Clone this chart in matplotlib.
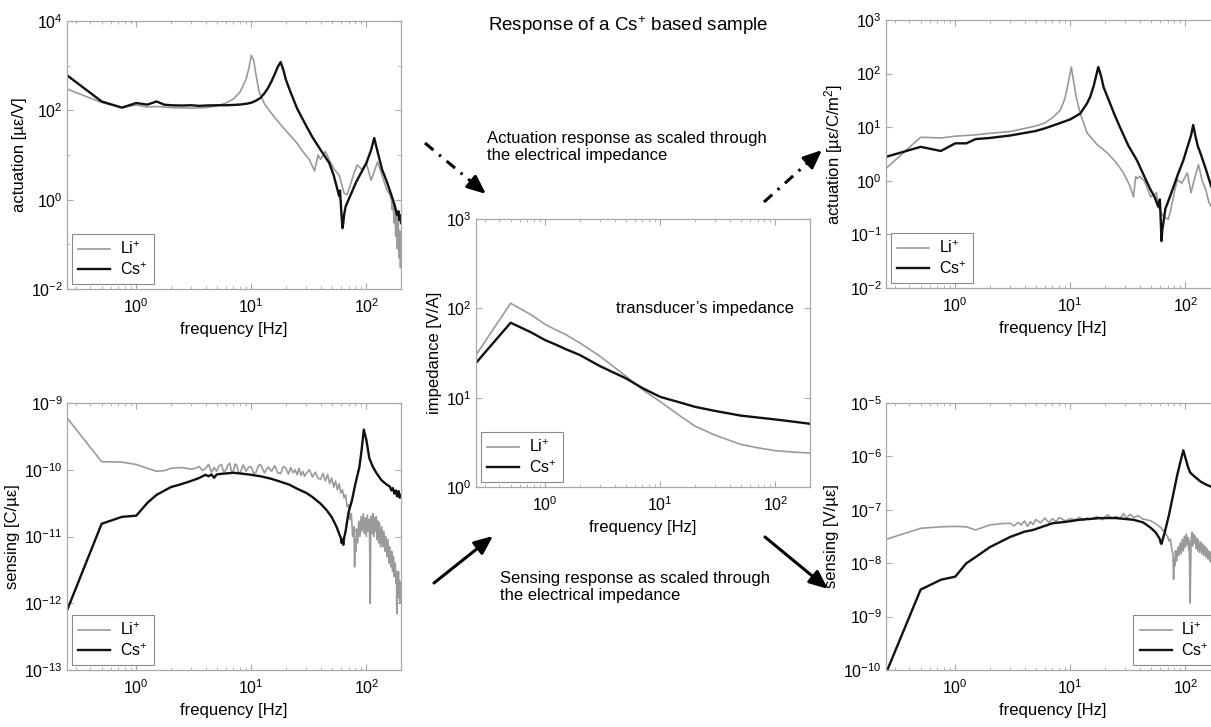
import numpy as np
import matplotlib
matplotlib.use('Agg')
import matplotlib.pyplot as plt
from matplotlib.ticker import FixedLocator, LogLocator, NullFormatter, LogFormatterSciNotation
from matplotlib.lines import Line2D

plt.rcParams['font.family'] = ['Liberation Sans', 'DejaVu Sans']
plt.rcParams['mathtext.fontset'] = 'custom'
plt.rcParams['mathtext.rm'] = 'Liberation Sans'
plt.rcParams['mathtext.it'] = 'Liberation Sans:italic'
plt.rcParams['mathtext.bf'] = 'Liberation Sans:bold'

# ---------------- data ----------------
# actuation [µε/V] (top-left)
act_f_cs = [0.25,0.5,0.75,1,1.25,1.5,1.75,2,2.5,3,3.5,4,5,6,7,8,9,10,11,12,13,14,15,16,17,18,19,20,22,25,
            30,34,40,47.6,52,56,58,59,60,61,62,63,64,66,70,75,81,90,100,110,117,125,137,150,168,175,180,185,190,194,197,200]
act_cs = [610,158,115,146,134,158,134,130,128,130,126,128,130,130,132,135,140,148,165,190,240,320,450,650,950,1200,800,480,250,110,
          45,25,13,6.6,3.5,1.7,1.2,1.6,0.8,0.4,0.23,0.3,0.45,0.7,1.0,1.5,2.4,4.0,6.6,13,24,12,4.7,2.6,1.1,0.8,0.6,0.45,0.55,0.35,0.45,0.3]
act_f_li = [0.25,0.5,0.75,1,1.25,1.5,2,3,4,5,6,7,8,9,9.5,10,10.5,11,11.7,13,15,17.5,20,24.7,28,32,35.5,38,40,44,
            47.6,52,58,61,64,68,72,77,83,92,100,110,125,137,150,160,165,168,171,174,177,180,183,186,189,192,195,198,200]
act_li = [300,150,115,132,118,122,115,112,115,125,145,180,260,500,850,1700,1300,600,260,140,85,52,35,19,12,7.8,4.4,10,8,12,
          7.8,5,3.5,2.2,1.4,1.3,2.0,3.5,6,4.7,6.6,2.7,7,3.5,1.7,1.3,1.0,0.6,0.9,0.3,0.7,0.15,0.5,0.08,0.4,0.05,0.2,0.03,0.1]

# sensing [C/µε] (bottom-left); Li in units of 1e-10, Cs in units of 1e-11
sen_f_li = [0.25,0.5,0.75,1,1.25,1.5,1.75,2,2.5,
            3,3.25,3.5,3.75,4,4.25,4.5,4.75,5,5.25,
            5.5,5.75,6,6.25,6.5,6.75,7,7.25,7.5,7.75,
            8,8.5,9,9.5,10,10.5,11,11.5,12,13,
            14,15,16,17,18,19,20,21,22,23,
            24,25,26,27,28,29,30,32,34,36,
            38,40,42,44,46,48,50,52,54,56,58,60,
            62,64,66,68,70,72,74,76,78,79,
            80,81,82,84,86,88,90,92,94,96,
            98,100,102,104,106,107,108,109,110,112,
            114,116,118,120,122,124,126,128,130,133,
            136,139,142,145,148,151,154,157,160,163,
            166,169,172,175,178,181,183,184,186,188,
            190,192,194,196,198,200]
sen_li_e10 = [6.0,1.32,1.3,1.2,1.05,0.95,0.97,1.05,1.08,
              1.02,1.05,1.12,0.98,1.04,1.2,0.92,1.08,0.95,1.15,
              1.2,0.93,0.98,1.18,1.25,0.92,0.97,1.22,1.15,0.9,
              0.9,1.18,0.95,1.1,1.1,0.88,0.92,1.15,1.2,0.9,
              1.1,0.95,1.15,0.9,0.88,1.12,1.05,0.86,1.08,0.9,
              1.0,0.84,1.05,0.82,0.95,0.8,0.88,1.0,0.78,0.92,
              0.75,0.72,0.88,0.68,0.85,0.62,0.75,0.55,0.68,0.5,0.62,0.45,
              0.5,0.38,0.42,0.28,0.3,0.18,0.22,0.1,0.14,0.035,
              0.09,0.06,0.13,0.08,0.17,0.1,0.2,0.12,0.22,0.11,
              0.19,0.1,0.21,0.12,0.18,0.06,0.01,0.09,0.2,0.11,
              0.22,0.1,0.19,0.12,0.2,0.09,0.17,0.08,0.16,0.07,
              0.14,0.07,0.12,0.06,0.1,0.05,0.09,0.04,0.07,0.035,
              0.06,0.03,0.05,0.025,0.04,0.02,0.03,0.007,0.025,0.015,
              0.03,0.012,0.022,0.01,0.02,0.012]
sen_f_cs = [0.25,0.5,0.75,1,1.25,1.5,2,2.4,3,3.5,4,4.25,4.5,4.75,5,5.5,6,7,8,10,
            12.4,15,18,21.3,25,30,34,40,45,50,55,58,60,61,62,63,64,66,70,75,
            80,87,91,95,100,106,114,122,135,150,160,165,170,175,180,185,190,195,200]
sen_cs_e11 = [0.078,1.55,1.97,2.05,3.2,4.2,5.5,6.0,6.8,7.5,8.4,8.0,8.5,7.6,8.5,8.7,8.8,9.0,8.8,8.4,
              7.9,7.3,6.6,6.0,5.2,4.5,3.9,3.1,2.5,1.95,1.4,1.1,0.95,0.8,0.9,0.75,0.95,1.2,2.3,3.5,
              6.0,11,20,40,28,15,11,9,7,6,5.6,4.9,5.3,4.4,4.9,4.0,4.8,3.8,4.2]

# impedance [V/A] (centre)
imp_f = [0.25,0.5,0.75,1,1.25,1.5,2,3,5,7,10,15,20,30,50,70,100,150,200]
imp_li = [30,114,85,66,57,51,41,29,17.5,12.3,9.0,6.2,4.8,3.8,3.0,2.75,2.55,2.45,2.4]
imp_cs = [24.5,69,54,44,39,35,30,22.5,16.5,12.8,10.2,8.8,7.9,7.1,6.3,6.0,5.7,5.35,5.1]

# actuation [µε/C/m²] (top-right)
ac2_f_li = [0.25,0.5,0.75,1,1.5,2,3,4,5,6,7,8.2,9,9.5,10.2,10.7,11.3,12.2,14,17,
            21,25,29,33,35.4,37,38,40,44,50,56,58,64,71,75,80,85,93,104,112,
            120,130,140,150,160,168,175,180,185,190,195,200]
ac2_li = [1.7,6.5,6.3,6.8,7.2,7.7,8.3,9.5,10.5,12,15,21,35,60,133,70,35,18,7.8,4.8,
          3.3,2.2,1.4,0.8,0.5,1.2,1.1,1.2,1.0,0.5,0.6,0.33,0.22,0.19,0.3,0.6,1.05,0.9,1.4,0.6,
          1.1,2.0,1.0,0.7,0.4,0.33,0.5,0.2,0.35,0.1,0.25,0.08]
ac2_f_cs = [0.25,0.5,0.75,1,1.25,1.5,2,3,4,5,6,8.2,10,12.2,14,14.9,16,17.5,18.5,19.5,
            21,24,27,32,38,44,50,54,58,60,61,62,63,64,65,67,72,79,87,96,
            105,112,117,122,128,135,150,168,180,190,200]
ac2_cs = [2.8,4.3,3.6,5.0,5.0,6.0,6.3,7.0,7.8,8.5,9.5,12,14,18,28,37,60,133,90,55,
          37,18,10,4.5,2.4,1.2,0.67,0.5,0.33,0.45,0.2,0.075,0.12,0.15,0.19,0.3,0.45,0.78,1.4,2.4,
          4.5,7,11,7,4.5,3.3,1.7,0.78,0.6,0.45,0.4]

# sensing [V/µε] (bottom-right), values in units of 1e-8
se2_f_li = [0.25,0.5,0.75,1,1.25,1.5,2,2.5,3,3.25,3.5,3.75,4,4.25,4.5,4.75,5,5.5,6,6.5,
            7,7.5,8,9,10,11,12,13,14,15,17,19,21,23,25,27,29,31,33,36,
            39,42,46,50,55,60,
            62,64,66,68,70,72,74,76,78,79,
            80,81,82,84,86,88,90,92,94,96,
            98,100,102,104,106,107,108,109,110,112,
            114,116,118,120,122,124,126,128,130,133,
            136,139,142,145,148,151,154,157,160,163,
            166,169,172,175,178,181,183,184,186,188,
            190,192,194,196,198,200]
se2_li_e8 = [2.8,4.5,4.8,4.9,4.8,4.2,5.2,5.5,5.6,5.0,5.8,5.2,6.2,4.9,6.0,5.3,6.6,5.7,7.0,5.8,
             6.8,6.0,7.2,6.2,6.8,6.5,7.2,6.4,7.0,6.6,7.5,6.5,8.0,7.0,7.5,6.8,8.5,7.0,8.2,7.2,
             7.8,6.8,6.5,6.2,5.5,4.8,
             4.5,4.0,4.3,3.4,3.2,2.6,2.8,1.9,1.5,0.5,
             1.2,0.9,1.7,1.1,2.0,1.4,2.4,1.5,2.8,1.7,
             3.2,2.0,3.5,2.2,3.0,1.8,2.6,0.9,0.18,2.5,
             3.8,2.1,3.5,2.4,3.2,1.9,2.9,1.7,2.7,1.6,
             2.5,1.5,2.3,1.4,2.1,1.3,1.9,1.2,1.7,1.1,
             1.6,1.0,1.4,0.9,1.3,0.8,1.2,0.7,1.1,0.7,
             1.0,0.65,0.9,0.6,0.85,0.6]
se2_f_cs = [0.25,0.5,0.75,1,1.25,1.5,2,2.46,3,4,4.76,6,7,9.4,12,18.3,25,35.5,43,50,
            55,58,60,61,62,63,65,67,72,79,85,90,96,100,105,110,120,135,150,168,185,200]
se2_cs_e8 = [0.0087,0.32,0.49,0.56,1.0,1.3,2.0,2.5,3.1,3.9,4.2,5.0,5.6,6.0,6.5,7.0,7.0,6.5,5.8,4.6,
             3.8,3.2,2.8,2.4,2.3,2.6,3.3,4.2,8,21,45,75,130,95,65,50,42,34,30,27,26,25]

labels = ['Li$^{+}$', 'Cs$^{+}$']
GRAY, BLACK = '#9a9a9a', '#111111'
FRAME = '#a8a8a8'

W, H = 1211, 727
fig = plt.figure(figsize=(W/100, H/100), dpi=100)

def rect(l, t, r, b):
    return [l/W, 1 - b/H, (r - l)/W, (b - t)/H]

def setup(ax, ylim, yticks, ylabel, yminor=()):
    ax.set_xscale('log'); ax.set_yscale('log')
    ax.set_xlim(0.25, 200)
    ax.set_ylim(*ylim)
    ax.xaxis.set_major_locator(FixedLocator([1, 10, 100]))
    ax.xaxis.set_minor_locator(LogLocator(base=10, subs=np.arange(2, 10), numticks=30))
    ax.xaxis.set_minor_formatter(NullFormatter())
    ax.yaxis.set_major_locator(FixedLocator(yticks))
    ax.yaxis.set_minor_locator(FixedLocator(list(yminor)))
    ax.yaxis.set_minor_formatter(NullFormatter())
    ax.xaxis.set_major_formatter(LogFormatterSciNotation())
    ax.yaxis.set_major_formatter(LogFormatterSciNotation())
    ax.tick_params(which='both', direction='in', top=True, right=True, color=FRAME,
                   labelcolor='black', labelsize=11.5)
    ax.tick_params(which='major', length=4, width=0.8)
    ax.tick_params(which='minor', length=2.5, width=0.6)
    ax.tick_params(axis='x', pad=6)
    ax.tick_params(axis='y', pad=3)
    for s in ax.spines.values():
        s.set_color(FRAME); s.set_linewidth(0.9)
    ax.set_xlabel('frequency [Hz]', fontsize=12, labelpad=4)
    ax.set_ylabel(ylabel, fontsize=12, labelpad=3)

def plot_pair(ax, fl, vl, fc, vc, loc):
    ax.plot(fl, vl, color=GRAY, lw=1.2, label=labels[0])
    ax.plot(fc, vc, color=BLACK, lw=1.7, label=labels[1])
    leg = ax.legend(loc=loc, fontsize=11.5, frameon=True, fancybox=False, framealpha=1,
                    edgecolor='#8a8a8a', handlelength=2.0, handletextpad=0.6,
                    borderpad=0.4, labelspacing=0.25, borderaxespad=0.3)
    leg.get_frame().set_linewidth(0.8)

# top-left
ax1 = fig.add_axes(rect(67, 21, 401, 289))
plot_pair(ax1, act_f_li, act_li, act_f_cs, act_cs, 'lower left')
setup(ax1, (1e-2, 1e4), [1e-2, 1, 1e2, 1e4], 'actuation [µε/V]', yminor=[1e-1, 1e1, 1e3])

# bottom-left
ax2 = fig.add_axes(rect(67, 403, 401, 670))
plot_pair(ax2, sen_f_li, np.array(sen_li_e10) * 1e-10, sen_f_cs, np.array(sen_cs_e11) * 1e-11, 'lower left')
setup(ax2, (1e-13, 1e-9), [1e-13, 1e-12, 1e-11, 1e-10, 1e-9], 'sensing [C/µε]')

# centre
ax3 = fig.add_axes(rect(476, 219, 810, 487))
plot_pair(ax3, imp_f, imp_li, imp_f, imp_cs, 'lower left')
setup(ax3, (1, 1e3), [1, 10, 100, 1000], 'impedance [V/A]')
ax3.text(0.685, 0.665, 'transducer’s impedance', transform=ax3.transAxes, ha='center', va='center', fontsize=12)

# top-right
ax4 = fig.add_axes(rect(886, 20, 1220, 288))
plot_pair(ax4, ac2_f_li, ac2_li, ac2_f_cs, ac2_cs, 'lower left')
setup(ax4, (1e-2, 1e3), [1e-2, 1e-1, 1, 10, 100, 1000], 'actuation [µε/C/m$^{2}$]')

# bottom-right
ax5 = fig.add_axes(rect(886, 403, 1220, 670))
plot_pair(ax5, se2_f_li, np.array(se2_li_e8) * 1e-8, se2_f_cs, np.array(se2_cs_e8) * 1e-8, 'lower right')
setup(ax5, (1e-10, 1e-5), [1e-10, 1e-9, 1e-8, 1e-7, 1e-6, 1e-5], 'sensing [V/µε]')

# ---------------- annotations ----------------
def fp(x, y):
    return (x / W, 1 - y / H)

fig.text(*fp(628, 26), 'Response of a Cs$^{+}$ based sample', ha='center', va='center', fontsize=13.5)
fig.text(*fp(487, 147), 'Actuation response as scaled through\nthe electrical impedance',
         ha='left', va='center', fontsize=12, linespacing=1.2)
fig.text(*fp(500, 587), 'Sensing response as scaled through\nthe electrical impedance',
         ha='left', va='center', fontsize=12, linespacing=1.2)

def arrow(x0, y0, x1, y1, dashed):
    d = np.hypot(x1 - x0, y1 - y0)
    ux, uy = (x1 - x0) / d, (y1 - y0) / d
    hb = 12
    if dashed:
        xs, ys = fp(x0, y0), fp(x1 - ux * hb, y1 - uy * hb)
        fig.add_artist(Line2D([xs[0], ys[0]], [xs[1], ys[1]], transform=fig.transFigure,
                              color='k', lw=2.2, linestyle=(0, (3.6, 2.4, 0.8, 2.4))))
        start = fp(x1 - ux * (hb + 1), y1 - uy * (hb + 1))
    else:
        start = fp(x0, y0)
    fig.add_artist(matplotlib.patches.FancyArrowPatch(
        start, fp(x1, y1), transform=fig.transFigure, arrowstyle='-|>,head_length=0.7,head_width=0.3',
        mutation_scale=16, color='k', lw=2.2, shrinkA=0, shrinkB=0))

arrow(425, 143, 486, 194, True)
arrow(764, 202, 822, 150, True)
arrow(434, 583, 493, 536, False)
arrow(765, 537, 828, 589, False)

fig.savefig('out.png', dpi=100)
